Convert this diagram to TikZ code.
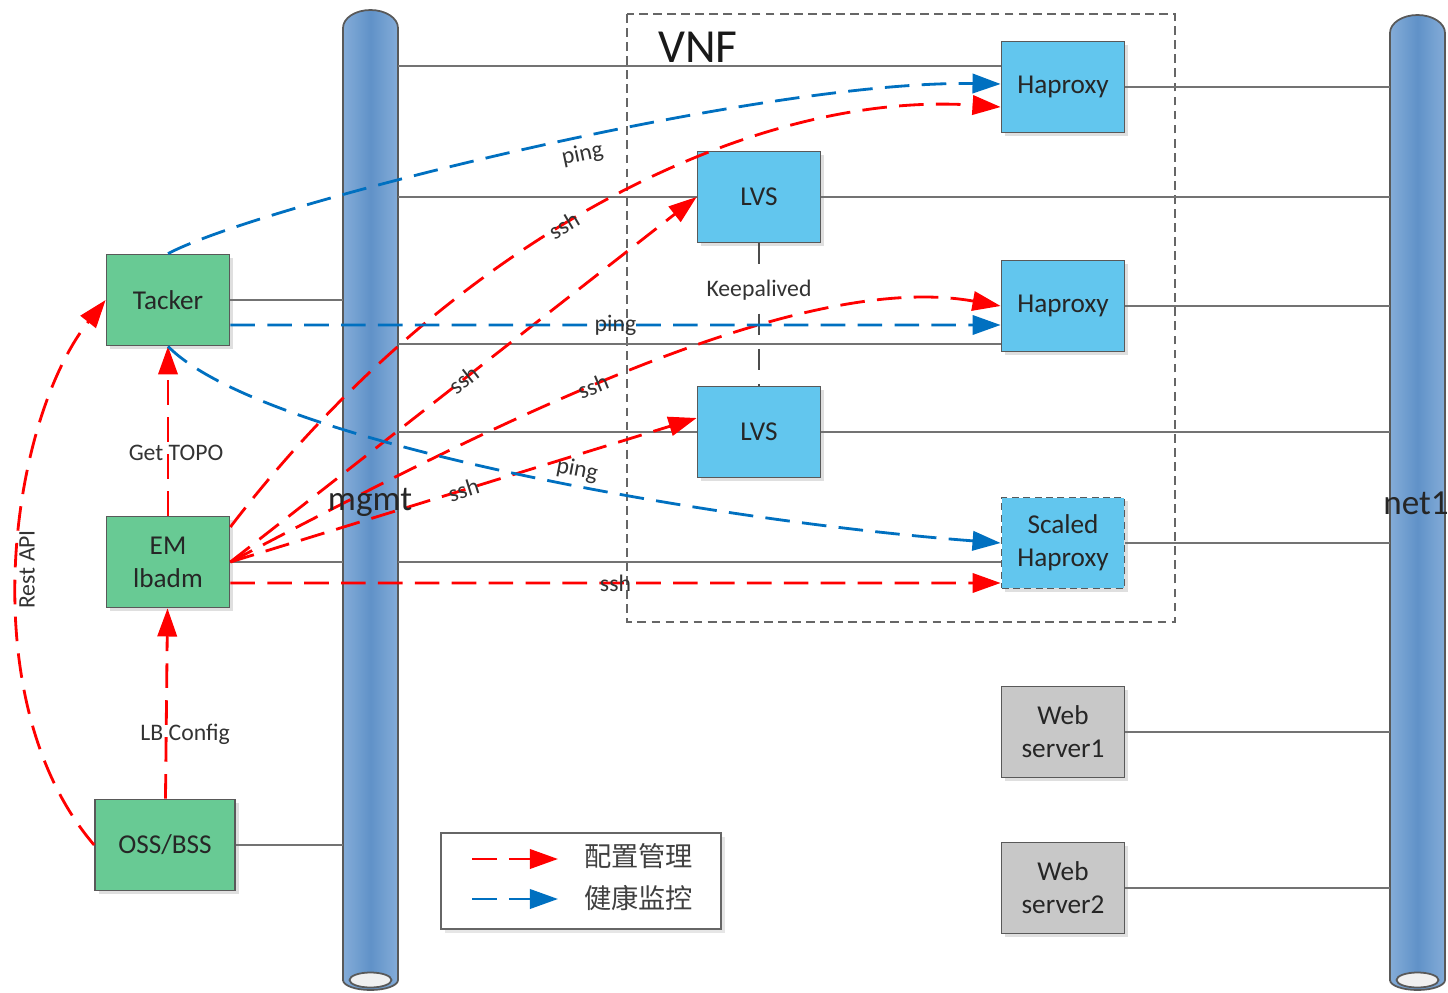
\documentclass[tikz,border=0pt]{standalone}
\usepackage{fontspec}
\setmainfont{Carlito}
\newfontfamily\cjk{Noto Sans CJK SC}
\usepackage{tikz}
\usetikzlibrary{shadows,arrows.meta,calc}

\definecolor{busA}{RGB}{132,172,216}
\definecolor{busB}{RGB}{96,146,200}
\definecolor{greenbox}{RGB}{104,202,148}
\definecolor{bluebox}{RGB}{98,198,238}
\definecolor{graybox}{RGB}{200,200,200}
\definecolor{monblue}{RGB}{0,112,192}

\tikzset{
  box/.style={draw=black!65, line width=1pt, minimum width=2.46cm, minimum height=1.82cm, align=center,
    font=\fontsize{15.5}{18.7}\selectfont, text=black!85,
    drop shadow={opacity=0.25, shadow xshift=2pt, shadow yshift=-2pt}},
  ctrlbox/.style={box, fill=greenbox},
  vnfbox/.style={box, fill=bluebox},
  webbox/.style={box, fill=graybox},
  bus/.style={draw=black!65, line width=1pt, left color=busA, right color=busA, middle color=busB},
  busend/.style={draw=black!65, line width=1pt, fill=black!6},
  link/.style={draw=black!55, line width=0.9pt},
  cfg/.style={draw=red, line width=1.6pt, dash pattern=on 14pt off 7pt, -{Triangle[length=16pt,width=11pt]}},
  mon/.style={cfg, draw=monblue},
  lbl/.style={font=\fontsize{13.5}{16}\selectfont, text=black!80, inner sep=1pt},
  buslbl/.style={font=\fontsize{20}{24}\selectfont, text=black!85},
  cjklbl/.style={font=\cjk\fontsize{15.5}{18}\selectfont, text=black!75}
}

\begin{document}
\begin{tikzpicture}[x=0.02cm,y=-0.02cm]
\useasboundingbox (0,0) rectangle (1448,993);
% mgmt bus
\path[bus] (343,980) -- (343,28) arc[start angle=180,end angle=0,x radius=0.55cm,y radius=0.36cm]
  -- (398,980) arc[start angle=0,end angle=-180,x radius=0.55cm,y radius=0.2cm] -- cycle;
\draw[busend] (370.5,980) ellipse[x radius=0.42cm,y radius=0.15cm];
\coordinate (mgmtL) at (343,500);
\coordinate (mgmtR) at (398,500);
% net1 bus
\path[bus] (1390,980) -- (1390,33) arc[start angle=180,end angle=0,x radius=0.55cm,y radius=0.36cm]
  -- (1445,980) arc[start angle=0,end angle=-180,x radius=0.55cm,y radius=0.2cm] -- cycle;
\draw[busend] (1417.5,980) ellipse[x radius=0.42cm,y radius=0.15cm];
\coordinate (net1L) at (1390,500);
% VNF frame
\draw[draw=black!60, line width=0.8pt, dash pattern=on 5pt off 3pt] (627,14) rectangle (1175,622);
\node[font=\fontsize{27}{30}\selectfont, text=black!90] (vnf) at (698,47) {VNF};
% VNF members
\node[vnfbox] (hap1) at (1063,87) {Haproxy};
\node[vnfbox] (lvs1) at (759,197) {LVS};
\node[vnfbox] (hap2) at (1063,306) {Haproxy};
\node[vnfbox] (lvs2) at (759,432) {LVS};
\node[vnfbox, dash pattern=on 4pt off 2.5pt] (scaled) at (1063,543) {Scaled\\Haproxy};
% web servers
\node[webbox] (web1) at (1063,732) {Web\\server1};
\node[webbox] (web2) at (1063,888) {Web\\server2};
% management side
\node[ctrlbox] (tacker) at (168,300) {Tacker};
\node[ctrlbox] (em) at (168,562) {EM\\lbadm};
\node[ctrlbox, minimum width=2.8cm] (oss) at (165,845) {OSS/BSS};
% links to mgmt
\draw[link] (tacker.east) -- (tacker.east -| mgmtL);
\draw[link] (em.east) -- (em.east -| mgmtL);
\draw[link] (oss.east) -- (oss.east -| mgmtL);
\coordinate (h1m) at ([yshift=0.42cm]hap1.west);
\coordinate (h2m) at ([yshift=-0.76cm]hap2.west);
\coordinate (scm) at ([yshift=-0.38cm]scaled.west);
\draw[link] (h1m) -- (h1m -| mgmtR);
\draw[link] (lvs1.west) -- (lvs1.west -| mgmtR);
\draw[link] (h2m) -- (h2m -| mgmtR);
\draw[link] (lvs2.west) -- (lvs2.west -| mgmtR);
\draw[link] (scm) -- (scm -| mgmtR);
% links to net1
\draw[link] (hap1.east) -- (hap1.east -| net1L);
\draw[link] (lvs1.east) -- (lvs1.east -| net1L);
\draw[link] (hap2.east) -- (hap2.east -| net1L);
\draw[link] (lvs2.east) -- (lvs2.east -| net1L);
\draw[link] (scaled.east) -- (scaled.east -| net1L);
\draw[link] (web1.east) -- (web1.east -| net1L);
\draw[link] (web2.east) -- (web2.east -| net1L);
% keepalived
\draw[draw=black!70, line width=1.5pt, dash pattern=on 12pt off 8pt] (lvs1) -- node[lbl, fill=white, pos=0.33] (keep) {Keepalived} (lvs2);
% config (red)
\draw[cfg] (oss) -- node[lbl, pos=0.34, xshift=0.38cm] {LB Config} (em);
\draw[cfg] (em) -- node[lbl, pos=0.37, xshift=0.16cm] {Get TOPO} (tacker);
\draw[cfg] (oss.west) .. controls (-30,700) and (10,420) .. node[lbl, pos=0.49, xshift=0.2cm, rotate=90] {Rest API} (tacker.west);
\draw[cfg] ([yshift=0.7cm]em.east) .. controls (450,240) and (750,90) .. node[lbl, sloped, pos=0.45] {ssh} ([yshift=-0.4cm]hap1.west);
\draw[cfg] (em.east) -- node[lbl, sloped, pos=0.5] {ssh} (lvs1.west);
\draw[cfg] (em.east) .. controls (500,420) and (800,270) .. node[lbl, sloped, pos=0.44] {ssh} (hap2.west);
\draw[cfg] (em.east) -- node[lbl, sloped, pos=0.5] {ssh} ([yshift=0.28cm]lvs2.west);
\draw[cfg] ([yshift=-0.42cm]em.east) -- node[lbl, pos=0.5] {ssh} ([yshift=-0.8cm]scaled.west);
% monitoring (blue)
\draw[mon] (tacker.north) .. controls (260,205) and (760,80) .. node[lbl, sloped, pos=0.55, below=2pt] {ping} ([yshift=0.06cm]hap1.west);
\draw[mon] ([yshift=-0.5cm]tacker.east) -- node[lbl, pos=0.5] {ping} ([yshift=-0.38cm]hap2.west);
\draw[mon] (tacker.south) .. controls (260,440) and (700,520) .. node[lbl, sloped, pos=0.57, above=1pt] {ping} (scaled.west);
% bus names
\node[buslbl] (mgmtlbl) at (370,502) {mgmt};
\node[buslbl] (net1lbl) at (1416,503) {net1};
% legend
\draw[draw=black!60, line width=1pt, fill=white, drop shadow={opacity=0.2, shadow xshift=2pt, shadow yshift=-2pt}] (441,833) rectangle (721,929);
\coordinate (lg1a) at (472,859);
\coordinate (lg1b) at (558,859);
\coordinate (lg2a) at (472,899);
\coordinate (lg2b) at (558,899);
\draw[cfg] (lg1a) -- (lg1b);
\draw[mon] (lg2a) -- (lg2b);
\node[cjklbl, anchor=west] (lgcfg) at (578,856) {配置管理};
\node[cjklbl, anchor=west] (lgmon) at (578,898) {健康监控};
\end{tikzpicture}
\end{document}
